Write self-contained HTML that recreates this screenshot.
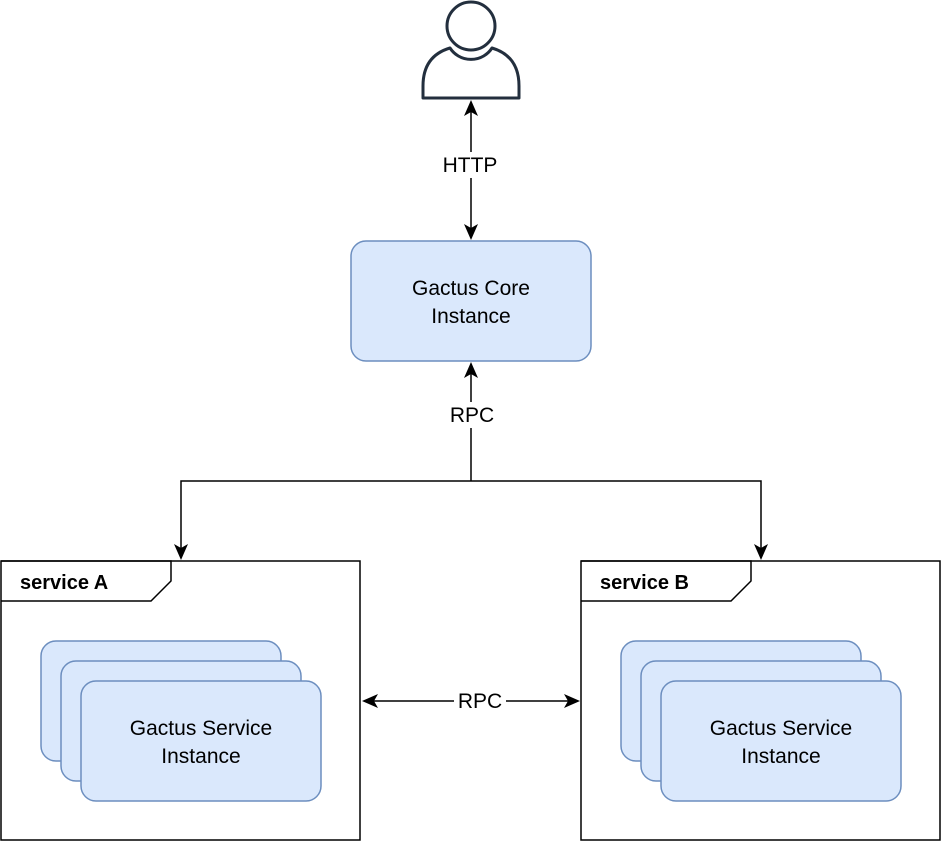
<!DOCTYPE html>
<html><head><meta charset="utf-8"><style>
html,body{margin:0;padding:0;background:#fff;}
svg{display:block;font-family:"Liberation Sans",Helvetica,Arial,sans-serif;}
</style></head><body>
<svg width="942" height="842" viewBox="0 0 942 842" xmlns="http://www.w3.org/2000/svg">
<g fill="none" stroke="#232F3E" stroke-width="3">
<circle cx="471" cy="26" r="24"/>
<path d="M423,98 V86 Q423,56 450,48 A25,25 0 0 0 492,48 Q519,56 519,86 V98 Z" stroke-linejoin="round"/>
</g>
<g stroke="#000" stroke-width="1.5" fill="none">
<line x1="471" y1="112" x2="471" y2="228"/>
<line x1="471" y1="374" x2="471" y2="481"/>
<polyline points="181,548 181,481 761,481 761,548"/>
<line x1="374" y1="701" x2="568" y2="701"/>
</g>
<g fill="#000">
<path d="M471,100 l7,16 l-7,-4 l-7,4 Z"/>
<path d="M471,240 l7,-16 l-7,4 l-7,-4 Z"/>
<path d="M471,362 l7,16 l-7,-4 l-7,4 Z"/>
<path d="M181,560 l7,-16 l-7,4 l-7,-4 Z"/>
<path d="M761,560 l7,-16 l-7,4 l-7,-4 Z"/>
<path d="M362,701 l16,-7 l-4,7 l4,7 Z"/>
<path d="M580,701 l-16,-7 l4,7 l-4,7 Z"/>
</g>
<rect x="436" y="152" width="70" height="26" fill="#fff"/>
<text x="470" y="172" font-size="21" text-anchor="middle">HTTP</text>
<rect x="351" y="241" width="240" height="120" rx="15" fill="#dae8fc" stroke="#6c8ebf" stroke-width="1.5"/>
<text x="471" y="295" font-size="21" text-anchor="middle">Gactus Core</text>
<text x="471" y="323" font-size="21" text-anchor="middle">Instance</text>
<rect x="444" y="402" width="56" height="26" fill="#fff"/>
<text x="472" y="422" font-size="21" text-anchor="middle">RPC</text>
<g fill="none" stroke="#000" stroke-width="1.5">
<rect x="1" y="561" width="359" height="279"/>
<polyline points="1,561 171,561 171,581 151,601 1,601"/>
<rect x="581" y="561" width="359" height="279"/>
<polyline points="581,561 751,561 751,581 731,601 581,601"/>
</g>
<text x="20" y="589" font-size="20" font-weight="bold">service A</text>
<text x="600" y="589" font-size="20" font-weight="bold">service B</text>
<g fill="#dae8fc" stroke="#6c8ebf" stroke-width="1.5">
<rect x="41" y="641" width="240" height="120" rx="15"/>
<rect x="61" y="661" width="240" height="120" rx="15"/>
<rect x="81" y="681" width="240" height="120" rx="15"/>
<rect x="621" y="641" width="240" height="120" rx="15"/>
<rect x="641" y="661" width="240" height="120" rx="15"/>
<rect x="661" y="681" width="240" height="120" rx="15"/>
</g>
<text x="201" y="735" font-size="21" text-anchor="middle">Gactus Service</text>
<text x="201" y="763" font-size="21" text-anchor="middle">Instance</text>
<text x="781" y="735" font-size="21" text-anchor="middle">Gactus Service</text>
<text x="781" y="763" font-size="21" text-anchor="middle">Instance</text>
<rect x="454" y="690" width="52" height="24" fill="#fff"/>
<text x="480" y="708" font-size="21" text-anchor="middle">RPC</text>
</svg>
</body></html>
